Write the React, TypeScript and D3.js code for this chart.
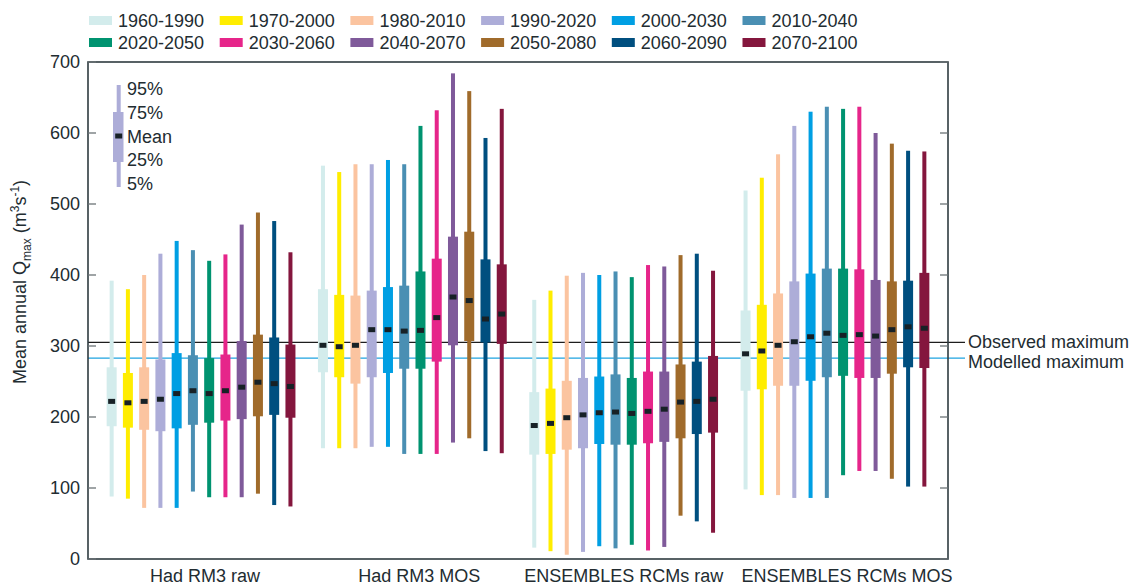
import React from 'react';
import * as d3 from 'd3';

const periods = [
  '1960-1990', '1970-2000', '1980-2010', '1990-2020', '2000-2030', '2010-2040',
  '2020-2050', '2030-2060', '2040-2070', '2050-2080', '2060-2090', '2070-2100',
];
const colors = [
  '#d3ecec', '#ffed00', '#fbc4a0', '#adadd8', '#009fe3', '#4a8fb3',
  '#009370', '#e6258a', '#7f5a9a', '#a06b2b', '#004f7f', '#84163d',
];
const groups = ['Had RM3 raw', 'Had RM3 MOS', 'ENSEMBLES RCMs raw', 'ENSEMBLES RCMs MOS'];

// one row per group, one value per period
const p5 = [
  [88, 85, 72, 72, 72, 95, 87, 87, 87, 92, 76, 74],
  [156, 156, 156, 158, 158, 148, 148, 148, 164, 170, 152, 149],
  [16, 11, 6, 10, 18, 15, 20, 12, 17, 61, 53, 37],
  [98, 90, 90, 86, 86, 86, 118, 124, 124, 113, 102, 102],
];
const p25 = [
  [187, 185, 182, 180, 184, 189, 192, 195, 197, 201, 203, 199],
  [263, 256, 247, 256, 262, 268, 268, 278, 301, 307, 305, 303],
  [147, 148, 154, 156, 162, 161, 161, 163, 165, 170, 176, 178],
  [237, 239, 244, 244, 251, 256, 258, 255, 255, 261, 270, 269],
];
const means = [
  [222, 220, 222, 225, 233, 237, 233, 237, 242, 249, 247, 243],
  [301, 299, 301, 323, 323, 321, 322, 340, 369, 364, 338, 345],
  [188, 191, 199, 203, 206, 207, 205, 208, 211, 221, 222, 225],
  [289, 293, 301, 306, 313, 318, 315, 316, 314, 323, 327, 325],
];
const p75 = [
  [270, 262, 270, 281, 290, 287, 283, 288, 307, 316, 312, 302],
  [380, 372, 371, 378, 383, 385, 405, 423, 454, 461, 422, 415],
  [235, 240, 251, 255, 257, 260, 255, 264, 264, 274, 278, 286],
  [350, 358, 374, 391, 402, 409, 409, 408, 393, 391, 392, 403],
];
const p95 = [
  [392, 380, 400, 430, 448, 435, 420, 429, 471, 488, 476, 432],
  [554, 545, 556, 556, 562, 556, 610, 632, 684, 659, 593, 634],
  [365, 378, 399, 403, 400, 405, 397, 414, 412, 428, 430, 406],
  [519, 537, 570, 610, 630, 637, 634, 637, 600, 585, 575, 574],
];
const yTicks = [0, 100, 200, 300, 400, 500, 600, 700];
const observedMax = 305;
const modelledMax = 283;

const W = 1136;
const H = 587;
const M = { left: 88, right: 948, top: 62, bottom: 559 };
const FONT = 'Liberation Sans, Arial, Helvetica, sans-serif';
const TEXT = '#222c31';
const AXIS = '#2f3b40';
// group labels sit a little right of the box centres in the original
const labelShift = [4, 7, 0, 12];

const App = () => {
  const y = d3.scaleLinear().domain([0, 700]).range([M.bottom, M.top]);
  const gx = d3.scaleBand().domain(groups).range([M.left, M.right]).paddingOuter(0.035).paddingInner(0);
  const sx = d3.scalePoint().domain(periods).range([0, gx.bandwidth()]).padding(1);

  const boxW = 10;
  const whiskW = 4;

  return (
    <svg width={W} height={H} style={{ position: 'absolute', left: 0, top: 0, background: '#fff' }} fontFamily={FONT}>
      {/* legend */}
      {periods.map((p, i) => {
        const col = i % 6;
        const row = Math.floor(i / 6);
        const lx = 89 + col * 130.7;
        const ly = 21 + row * 22;
        return (
          <g key={p}>
            <rect x={lx} y={ly - 5} width={23} height={9} fill={colors[i]} />
            <text x={lx + 29} y={ly} dy="0.35em" fontSize={18} fill={TEXT}>{p}</text>
          </g>
        );
      })}

      {/* reference lines */}
      <line x1={M.left} x2={965} y1={y(observedMax)} y2={y(observedMax)} stroke="#1d1d1d" strokeWidth={1.3} />
      <line x1={M.left} x2={965} y1={y(modelledMax)} y2={y(modelledMax)} stroke="#1ea3e0" strokeWidth={1.3} />
      <text x={968} y={y(observedMax) - 1} dy="0.35em" fontSize={18} fill={TEXT}>Observed maximum</text>
      <text x={968} y={y(modelledMax) + 4} dy="0.35em" fontSize={18} fill={TEXT}>Modelled maximum</text>

      {/* boxes */}
      {groups.map((g, gi) => (
        <g key={g} transform={`translate(${gx(g)},0)`}>
          {periods.map((p, i) => {
            const cx = sx(p) ?? 0;
            return (
              <g key={p}>
                <rect x={cx - whiskW / 2} y={y(p95[gi][i])} width={whiskW} height={y(p5[gi][i]) - y(p95[gi][i])} fill={colors[i]} />
                <rect x={cx - boxW / 2} y={y(p75[gi][i])} width={boxW} height={y(p25[gi][i]) - y(p75[gi][i])} fill={colors[i]} />
                <rect x={cx - 3.5} y={y(means[gi][i]) - 2.5} width={7} height={5} fill="#172126" />
              </g>
            );
          })}
          <text x={gx.bandwidth() / 2 + labelShift[gi]} y={582} textAnchor="middle" fontSize={18} fill={TEXT}>{g}</text>
        </g>
      ))}

      {/* inset key */}
      <g>
        <rect x={116.7} y={85} width={4} height={102} fill="#adadd8" />
        <rect x={113} y={112} width={10.5} height={50} fill="#adadd8" />
        <rect x={115.2} y={133.5} width={7} height={5} fill="#172126" />
        {[['95%', 89], ['75%', 113], ['Mean', 136.5], ['25%', 160], ['5%', 184]].map(([t, ty]) => (
          <text key={t as string} x={127} y={ty as number} dy="0.35em" fontSize={18} fill={TEXT}>{t}</text>
        ))}
      </g>

      {/* frame and ticks */}
      <rect x={M.left} y={M.top} width={M.right - M.left} height={M.bottom - M.top} fill="none" stroke={AXIS} strokeWidth={1.6} />
      {yTicks.map(t => (
        <g key={t}>
          <line x1={M.left} x2={M.left + 8} y1={y(t)} y2={y(t)} stroke="#6b7376" strokeWidth={1.3} />
          <line x1={M.right - 8} x2={M.right} y1={y(t)} y2={y(t)} stroke="#6b7376" strokeWidth={1.3} />
          <text x={80} y={y(t)} dy="0.35em" textAnchor="end" fontSize={18} fill={TEXT}>{t}</text>
        </g>
      ))}

      {/* y title */}
      <text transform={`translate(26,282) rotate(-90)`} textAnchor="middle" fontSize={18} fill={TEXT}>
        Mean annual Q<tspan fontSize={12} dy={5}>max</tspan>
        <tspan dy={-5}> (m</tspan><tspan fontSize={12} dy={-7}>3</tspan>
        <tspan dy={7}>s</tspan><tspan fontSize={12} dy={-7}>-1</tspan>
        <tspan dy={7}>)</tspan>
      </text>
    </svg>
  );
};

export default App;
